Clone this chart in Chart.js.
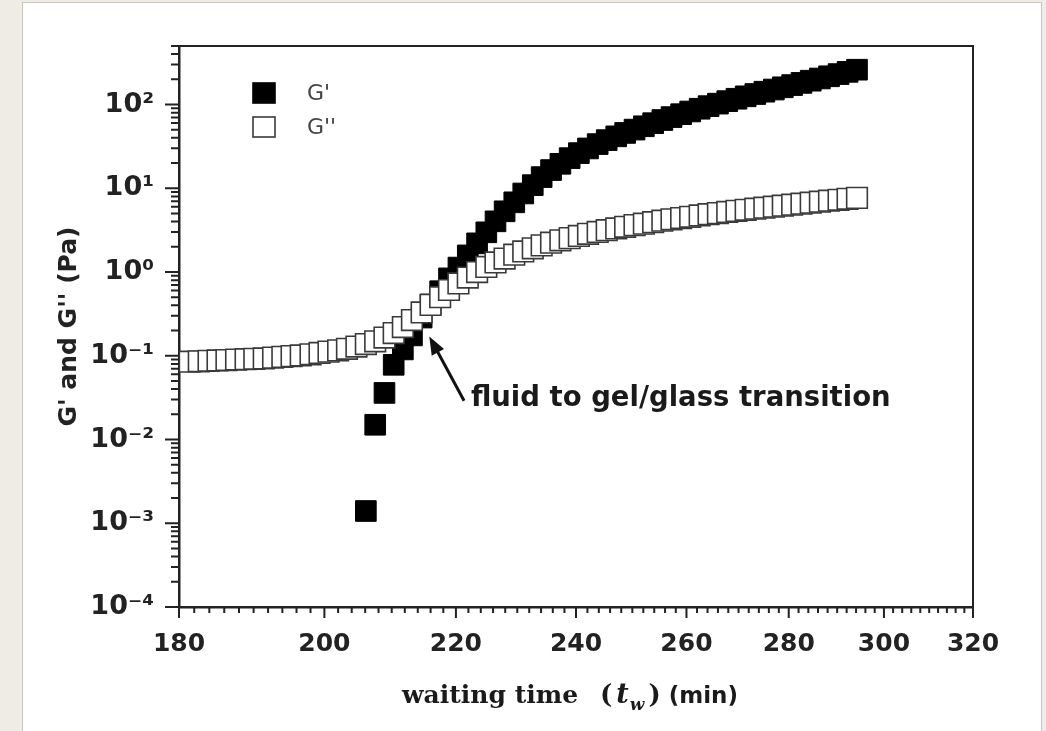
<!DOCTYPE html>
<html>
<head>
<meta charset="utf-8">
<script src="https://cdn.jsdelivr.net/npm/chart.js@4.4.1/dist/chart.umd.min.js"></script>
<style>
  html, body { margin: 0; padding: 0; background: #efece6; overflow: hidden; }
  #panel { position: absolute; left: 22px; top: 2px; width: 1018px; height: 760px; background: #fff; border: 1px solid #c9c6c0; }
  #wrap { position: absolute; left: 0; top: 0; width: 1046px; height: 731px; }
</style>
</head>
<body>
<div id="panel"></div>
<div id="wrap"><canvas id="chart"></canvas></div>
<script>
// waiting time (min)
const waitTimes = [
  181.4, 182.6, 183.9, 185.1, 186.3, 187.6, 188.9, 190.1, 191.4, 192.7,
  194.0, 195.3, 196.6, 198.0, 199.3, 200.6, 202.0, 203.3, 204.7, 206.1,
  207.5, 208.9, 210.3, 211.7, 213.1, 214.6, 216.0, 217.5, 218.9, 220.4,
  221.9, 223.4, 224.9, 226.4, 227.9, 229.5, 231.0, 232.6, 234.1, 235.7,
  237.3, 238.9, 240.5, 242.1, 243.8, 245.4, 247.1, 248.7, 250.4, 252.1,
  253.8, 255.5, 257.2, 259.0, 260.7, 262.5, 264.2, 266.0, 267.8, 269.6,
  271.4, 273.3, 275.1, 277.0, 278.8, 280.7, 282.6, 284.5, 286.4, 288.3,
  290.3, 292.2, 294.2
];

// G' (Pa) - no value before ~206 min
const gPrime = [
  null, null, null, null, null, null, null, null, null, null,
  null, null, null, null, null, null, null, null, null, 0.0014,
  0.015, 0.036, 0.078, 0.119, 0.175, 0.286, 0.41, 0.59, 0.84, 1.13,
  1.58, 2.20, 2.98, 4.03, 5.31, 6.80, 8.67, 10.9, 13.6, 16.5,
  19.6, 22.9, 26.3, 29.9, 33.7, 37.6, 41.7, 45.8, 50.2, 55.0,
  59.9, 65.3, 70.8, 76.7, 82.6, 89.1, 95.7, 102.5, 109.8, 117.3,
  125.3, 133.5, 142.3, 151.1, 160.6, 170.7, 181.3, 192.6, 204.7, 217.4,
  231.0, 245.5, 260.6
];

// G'' (Pa)
const gDoublePrime = [
  0.085, 0.086, 0.087, 0.088, 0.089, 0.090, 0.091, 0.092, 0.093, 0.095,
  0.097, 0.099, 0.101, 0.104, 0.108, 0.112, 0.116, 0.121, 0.129, 0.138,
  0.149, 0.165, 0.187, 0.220, 0.267, 0.329, 0.405, 0.50, 0.61, 0.73,
  0.86, 1.00, 1.15, 1.30, 1.45, 1.61, 1.76, 1.92, 2.08, 2.24,
  2.39, 2.54, 2.70, 2.86, 3.01, 3.16, 3.31, 3.47, 3.63, 3.78,
  3.94, 4.10, 4.26, 4.41, 4.57, 4.74, 4.90, 5.05, 5.21, 5.37,
  5.53, 5.70, 5.86, 6.03, 6.19, 6.37, 6.54, 6.73, 6.92, 7.11,
  7.29, 7.49, 7.68
];

// axis ticks
const xMajor = [180, 200, 220, 240, 260, 280, 300, 320];
const yMajor = [1e-4, 1e-3, 1e-2, 1e-1, 1, 10, 100];
const yMax = 500;

// annotation (data coords)
const arrowTip = { x: 215.8, y: 0.17 };
const arrowTail = { x: 221.3, y: 0.029 };
const noteText = "fluid to gel/glass transition";
const notePos = { x: 222.4, y: 0.0305 };

const SANS = "'DejaVu Sans', sans-serif";
const SERIF = "'DejaVu Serif', serif";

let xTickValues = [];
for (let v = 180; v <= 320; v += 2) xTickValues.push(v);

let yTickValues = [];
yMajor.forEach(m => {
  for (let d = 1; d <= 9; d++) {
    const v = d * m;
    if (v <= yMax * 1.0001) yTickValues.push(v);
  }
});

const supMap = { '-': '\u207B', '0': '\u2070', '1': '\u00B9', '2': '\u00B2', '3': '\u00B3', '4': '\u2074' };
function isDecade(v) {
  const l = Math.log10(v);
  return Math.abs(l - Math.round(l)) < 1e-9;
}
function decadeLabel(v) {
  const e = String(Math.round(Math.log10(v)));
  return '10' + e.split('').map(c => supMap[c]).join('');
}

const primeData = waitTimes.map((t, i) => ({ x: t, y: gPrime[i] })).filter(p => p.y !== null);
const doublePrimeData = waitTimes.map((t, i) => ({ x: t, y: gDoublePrime[i] }));

// tick marks, top/right frame, legend, arrow note, x title
const decorations = {
  id: 'decorations',
  afterDraw(chart) {
    const ctx = chart.ctx;
    const xs = chart.scales.x;
    const ys = chart.scales.y;
    const a = chart.chartArea;
    ctx.save();

    ctx.strokeStyle = '#222';
    ctx.lineWidth = 2;
    ctx.beginPath();
    xs.ticks.forEach(t => {
      const px = xs.getPixelForValue(t.value);
      const len = xMajor.includes(t.value) ? 11 : 6;
      ctx.moveTo(px, a.bottom);
      ctx.lineTo(px, a.bottom + len);
    });
    ys.ticks.forEach(t => {
      const py = ys.getPixelForValue(t.value);
      const len = isDecade(t.value) ? 14 : 8;
      ctx.moveTo(a.left, py);
      ctx.lineTo(a.left - len, py);
    });
    ctx.stroke();

    ctx.lineWidth = 2;
    ctx.beginPath();
    ctx.moveTo(a.left, a.top);
    ctx.lineTo(a.right, a.top);
    ctx.lineTo(a.right, a.bottom);
    ctx.stroke();

    // legend
    chart.data.datasets.forEach((ds, i) => {
      const cx = a.left + 85;
      const cy = a.top + 47 + i * 34;
      ctx.fillStyle = ds.backgroundColor;
      ctx.fillRect(cx - 11, cy - 10, 22, 20);
      ctx.strokeStyle = ds.borderColor;
      ctx.lineWidth = 1.6;
      ctx.strokeRect(cx - 11, cy - 10, 22, 20);
      ctx.fillStyle = '#444';
      ctx.font = '22px ' + SANS;
      ctx.textAlign = 'left';
      ctx.textBaseline = 'middle';
      ctx.fillText(ds.label, a.left + 128, cy + 1);
    });

    // arrow
    const tx = xs.getPixelForValue(arrowTip.x), ty = ys.getPixelForValue(arrowTip.y);
    const sx = xs.getPixelForValue(arrowTail.x), sy = ys.getPixelForValue(arrowTail.y);
    const ang = Math.atan2(ty - sy, tx - sx);
    const head = 18;
    ctx.strokeStyle = '#111';
    ctx.fillStyle = '#111';
    ctx.lineWidth = 3;
    ctx.beginPath();
    ctx.moveTo(sx, sy);
    ctx.lineTo(tx - Math.cos(ang) * (head - 2), ty - Math.sin(ang) * (head - 2));
    ctx.stroke();
    ctx.beginPath();
    ctx.moveTo(tx, ty);
    ctx.lineTo(tx - head * Math.cos(ang) + 7 * Math.sin(ang), ty - head * Math.sin(ang) - 7 * Math.cos(ang));
    ctx.lineTo(tx - head * Math.cos(ang) - 7 * Math.sin(ang), ty - head * Math.sin(ang) + 7 * Math.cos(ang));
    ctx.closePath();
    ctx.fill();

    ctx.font = 'bold 27.5px ' + SANS;
    ctx.fillStyle = '#1a1a1a';
    ctx.textAlign = 'left';
    ctx.textBaseline = 'middle';
    ctx.fillText(noteText, xs.getPixelForValue(notePos.x), ys.getPixelForValue(notePos.y));

    // x axis title: waiting time (t_w) (min)
    const parts = [
      { text: 'waiting time', font: 'bold 25px ' + SERIF, dy: 0, gap: 22 },
      { text: '(', font: 'bold 26px ' + SERIF, dy: 0, gap: 4 },
      { text: 't', font: 'italic bold 27px ' + SERIF, dy: 0, gap: 1 },
      { text: 'w', font: 'italic bold 17px ' + SERIF, dy: 7, gap: 4 },
      { text: ')', font: 'bold 26px ' + SERIF, dy: 0, gap: 8 },
      { text: '(min)', font: 'bold 23px ' + SANS, dy: 0, gap: 0 }
    ];
    let total = 0;
    parts.forEach(p => { ctx.font = p.font; p.w = ctx.measureText(p.text).width; total += p.w + p.gap; });
    let cx = (a.left + a.right) / 2 - 6 - total / 2;
    const baseY = 703;
    ctx.fillStyle = '#1a1a1a';
    ctx.textBaseline = 'alphabetic';
    parts.forEach(p => {
      ctx.font = p.font;
      ctx.fillText(p.text, cx, baseY + p.dy);
      cx += p.w + p.gap;
    });

    ctx.restore();
  }
};

const ctx = document.getElementById('chart').getContext('2d');
const chart = new Chart(ctx, {
  type: 'scatter',
  data: {
    datasets: [
      {
        label: "G'",
        data: primeData,
        pointStyle: 'rect',
        pointRadius: 14.6,
        backgroundColor: '#000',
        borderColor: '#000',
        borderWidth: 1,
        showLine: false,
        order: 1
      },
      {
        label: "G''",
        data: doublePrimeData,
        pointStyle: 'rect',
        pointRadius: 14.6,
        backgroundColor: '#fff',
        borderColor: '#3a3a3a',
        borderWidth: 1.6,
        showLine: false,
        order: 0
      }
    ]
  },
  options: {
    responsive: true,
    maintainAspectRatio: false,
    animation: false,
    events: [],
    layout: { padding: { top: 46, right: 73, bottom: 0, left: 0 } },
    plugins: {
      legend: { display: false },
      tooltip: { enabled: false }
    },
    scales: {
      x: {
        type: 'logarithmic',
        min: 180,
        max: 320,
        afterBuildTicks: s => { s.ticks = xTickValues.map(v => ({ value: v })); },
        afterFit: s => { s.height = 124; },
        grid: { display: true, drawOnChartArea: false, drawTicks: false },
        border: { display: true, color: '#222', width: 2.5 },
        ticks: {
          autoSkip: false,
          maxRotation: 0,
          padding: 22,
          color: '#222',
          font: { family: SANS, size: 25, weight: 'bold' },
          callback: v => xMajor.includes(v) ? String(v) : ''
        }
      },
      y: {
        type: 'logarithmic',
        min: 1e-4,
        max: yMax,
        afterBuildTicks: s => { s.ticks = yTickValues.map(v => ({ value: v })); },
        afterFit: s => { s.width = 179; },
        grid: { display: true, drawOnChartArea: false, drawTicks: false },
        border: { display: true, color: '#222', width: 2.5 },
        ticks: {
          autoSkip: false,
          padding: 25,
          color: '#222',
          font: { family: SANS, size: 27, weight: 'bold' },
          callback: v => isDecade(v) ? decadeLabel(v) : ''
        },
        title: {
          display: true,
          text: "G' and G'' (Pa)",
          color: '#222',
          font: { family: SANS, size: 25, weight: 'bold' },
          padding: { top: 54, bottom: 0 }
        }
      }
    }
  },
  plugins: [decorations]
});
</script>
</body>
</html>
